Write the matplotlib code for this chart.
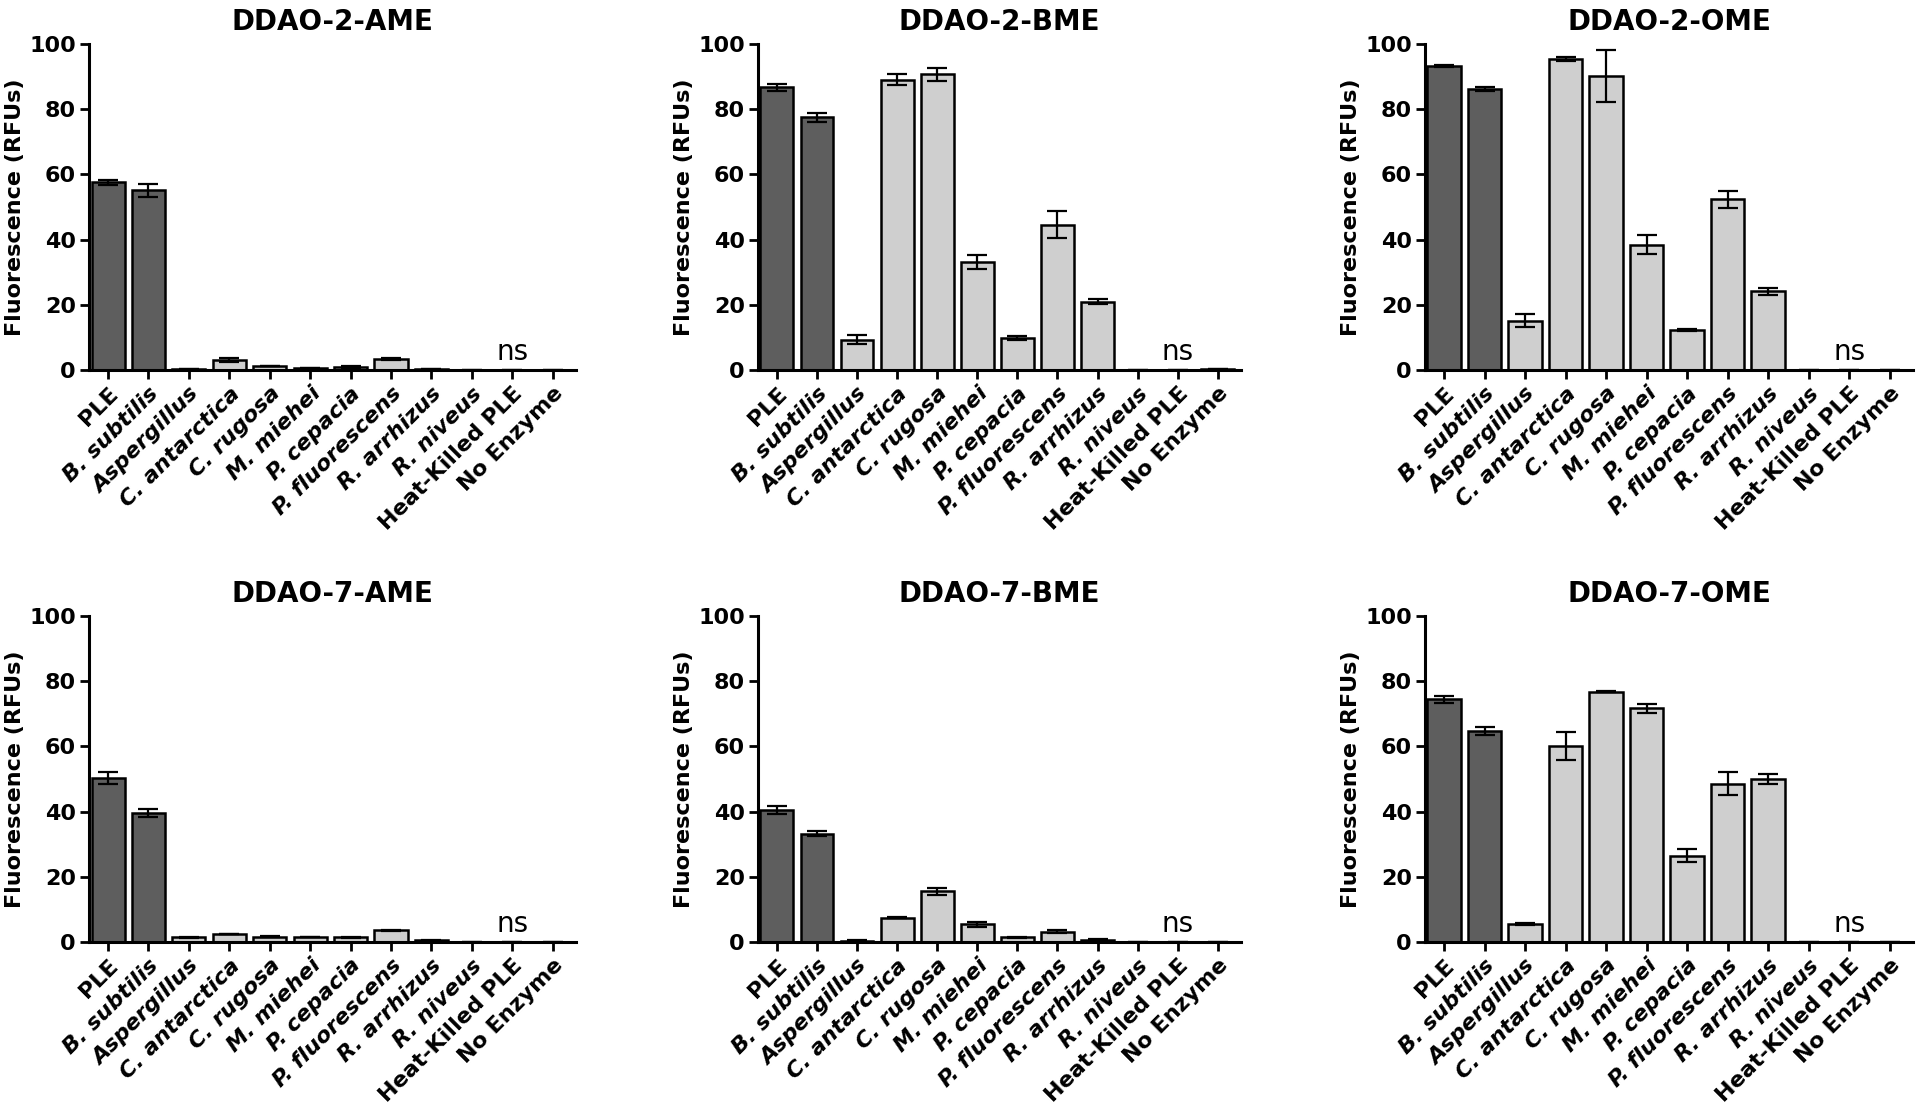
import matplotlib
matplotlib.use('Agg')
import matplotlib.pyplot as plt

plt.rcParams['font.family'] = ['DejaVu Sans']

categories = ['PLE', 'B. subtilis', 'Aspergillus', 'C. antarctica', 'C. rugosa',
              'M. miehei', 'P. cepacia', 'P. fluorescens', 'R. arrhizus',
              'R. niveus', 'Heat-Killed PLE', 'No Enzyme']
italic_labels = ['B. subtilis', 'Aspergillus', 'C. antarctica', 'C. rugosa',
                 'M. miehei', 'P. cepacia', 'P. fluorescens', 'R. arrhizus',
                 'R. niveus']
dark_labels = ['PLE', 'B. subtilis']

titles = ['DDAO-2-AME', 'DDAO-2-BME', 'DDAO-2-OME',
          'DDAO-7-AME', 'DDAO-7-BME', 'DDAO-7-OME']

ame2 = [57.6, 55.1, 0.3, 3.1, 1.1, 0.5, 0.8, 3.5, 0.3, 0, 0, 0]
ame2_err = [0.7, 2.0, 0, 0.5, 0, 0, 0.3, 0.3, 0, 0, 0, 0]
bme2 = [86.7, 77.5, 9.3, 89.1, 90.7, 33.2, 9.8, 44.6, 21.0, 0, 0, 0.3]
bme2_err = [1.0, 1.3, 1.4, 1.8, 2.0, 2.1, 0.6, 4.2, 0.8, 0, 0, 0]
ome2 = [93.1, 86.1, 15.1, 95.4, 90.3, 38.5, 12.2, 52.4, 24.2, 0, 0, 0]
ome2_err = [0.3, 0.6, 2.0, 0.5, 8.0, 2.9, 0.3, 2.6, 1.1, 0, 0, 0]
ame7 = [50.2, 39.6, 1.4, 2.4, 1.6, 1.5, 1.4, 3.6, 0.5, 0, 0, 0]
ame7_err = [1.8, 1.2, 0.1, 0.1, 0.1, 0.1, 0.1, 0.2, 0.1, 0, 0, 0]
bme7 = [40.4, 33.2, 0.4, 7.4, 15.5, 5.4, 1.4, 3.2, 0.7, 0, 0, 0]
bme7_err = [1.3, 0.8, 0.1, 0.2, 1.0, 0.7, 0.1, 0.4, 0.1, 0, 0, 0]
ome7 = [74.4, 64.7, 5.4, 60.1, 76.8, 71.7, 26.5, 48.5, 50.0, 0, 0, 0]
ome7_err = [1.1, 1.3, 0.3, 4.2, 0.1, 1.4, 1.9, 3.5, 1.4, 0, 0, 0]

values = [ame2, bme2, ome2, ame7, bme7, ome7]
errors = [ame2_err, bme2_err, ome2_err, ame7_err, bme7_err, ome7_err]

col_left = [0.0464, 0.3948, 0.7422]
col_width = [0.2536, 0.2516, 0.2542]
row_bottom = [0.6693, 0.1582]
row_height = 0.2914


def draw_panel(ax, title, vals, errs):
    x = list(range(len(categories)))
    colors = ['#5e5e5e' if c in dark_labels else '#cfcfcf' for c in categories]
    ax.bar(x, vals, width=0.82, color=colors, edgecolor='black', linewidth=1.8, zorder=2)
    ax.errorbar(x, vals, yerr=errs, fmt='none', ecolor='black', elinewidth=1.6,
                capsize=7, capthick=1.6, zorder=3)
    ax.text(10, 3, 'ns', ha='center', va='baseline', fontsize=20)

    ax.set_xlim(-0.47, 11.58)
    ax.set_ylim(0, 100)
    ax.set_yticks([0, 20, 40, 60, 80, 100])
    ax.set_xticks(x)
    ax.set_xticklabels(categories, rotation=45, ha='right', rotation_mode='anchor',
                       fontsize=16, fontweight='bold')
    for lbl in ax.get_xticklabels():
        if lbl.get_text() in italic_labels:
            lbl.set_fontstyle('italic')
    for lbl in ax.get_yticklabels():
        lbl.set_fontweight('bold')
    ax.tick_params(axis='both', direction='out', length=6.5, width=2, labelsize=16, pad=3)

    for side in ['top', 'right']:
        ax.spines[side].set_visible(False)
    for side in ['left', 'bottom']:
        ax.spines[side].set_linewidth(2.2)

    ax.set_ylabel('Fluorescence (RFUs)', fontsize=16, fontweight='bold', labelpad=3)
    ax.set_title(title, fontsize=20, fontweight='bold', pad=10)


fig = plt.figure(figsize=(19.2, 11.19), dpi=100)
for i in range(6):
    r, c = divmod(i, 3)
    ax = fig.add_axes([col_left[c], row_bottom[r], col_width[c], row_height])
    draw_panel(ax, titles[i], values[i], errors[i])

fig.savefig('out.png', dpi=100)
